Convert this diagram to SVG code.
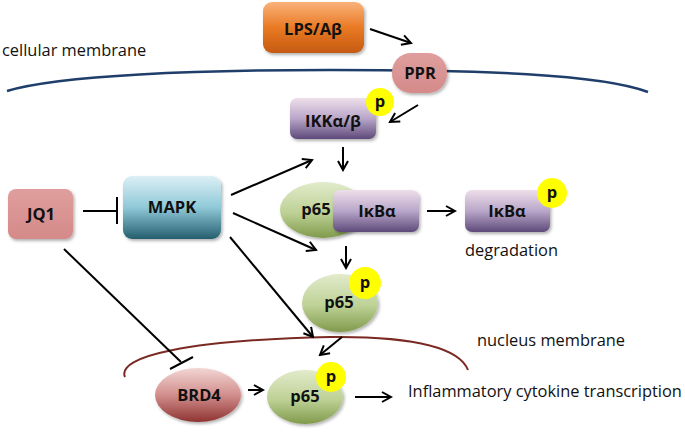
<svg xmlns="http://www.w3.org/2000/svg" width="685" height="432" viewBox="0 0 685 432">
<defs>
<style>
.lbl{font-family:"Open Sans","Liberation Sans",sans-serif;font-weight:bold;font-size:16.5px;fill:#111;text-anchor:middle}
.txt{font-family:"Open Sans","Liberation Sans",sans-serif;font-size:16.4px;fill:#111}
.con{stroke:#000;stroke-width:2;fill:none}
.arr{marker-end:url(#ah)}
.pc{fill:#FFFF00}
</style>
<marker id="ah" viewBox="0 0 12 12" refX="10" refY="6" markerWidth="12" markerHeight="12" markerUnits="userSpaceOnUse" orient="auto">
<path d="M1,1 L10,6 L1,11" fill="none" stroke="#000" stroke-width="2"/>
</marker>
<filter id="sh" x="-20%" y="-20%" width="150%" height="150%">
<feDropShadow dx="1.5" dy="2" stdDeviation="1.8" flood-color="#000" flood-opacity="0.3"/>
</filter>
<linearGradient id="gOr" x1="0" y1="0" x2="0" y2="1">
<stop offset="0" stop-color="#F9B27A"/><stop offset="0.5" stop-color="#E97A24"/><stop offset="1" stop-color="#C55A11"/>
</linearGradient>
<linearGradient id="gPu" x1="0" y1="0" x2="0" y2="1">
<stop offset="0" stop-color="#EEDFEA"/><stop offset="0.5" stop-color="#B9A6C9"/><stop offset="1" stop-color="#5E4A7A"/>
</linearGradient>
<linearGradient id="gBl" x1="0" y1="0" x2="0" y2="1">
<stop offset="0" stop-color="#DCEFF5"/><stop offset="0.5" stop-color="#8FC9D8"/><stop offset="1" stop-color="#245E6E"/>
</linearGradient>
<linearGradient id="gGr" x1="0" y1="0" x2="0" y2="1">
<stop offset="0" stop-color="#E2EBCB"/><stop offset="0.55" stop-color="#BDD195"/><stop offset="1" stop-color="#809A4C"/>
</linearGradient>
<linearGradient id="gRd" x1="0" y1="0" x2="0" y2="1">
<stop offset="0" stop-color="#F2D6D4"/><stop offset="0.5" stop-color="#D28E8C"/><stop offset="1" stop-color="#8E3432"/>
</linearGradient>
<linearGradient id="gPk" x1="0" y1="0" x2="0" y2="1">
<stop offset="0" stop-color="#DF9E9D"/><stop offset="1" stop-color="#D48A89"/>
</linearGradient>
</defs>
<rect width="685" height="432" fill="#fff"/>

<g id="membranes">
<path d="M7,91 C60,75 200,70 330,70 C480,70 600,74 648,92" fill="none" stroke="#1F3E6A" stroke-width="2.5"/>
<path d="M125,377 C116,356 190,340 330,337 C420,336 460,350 468,370" fill="none" stroke="#7A2A22" stroke-width="2"/>
<text class="txt" x="2" y="56">cellular membrane</text>
<text class="txt" x="477" y="346">nucleus membrane</text>
</g>

<g id="connectors">
<line class="con arr" x1="370" y1="29" x2="411" y2="43"/>
<line class="con arr" x1="418" y1="105" x2="390" y2="122"/>
<line class="con arr" x1="343" y1="147" x2="343" y2="170"/>
<line class="con arr" x1="231" y1="195" x2="312" y2="160"/>
<line class="con arr" x1="233" y1="213" x2="316" y2="250"/>
<line class="con arr" x1="230" y1="237" x2="313" y2="337"/>
<line class="con arr" x1="427" y1="211" x2="455" y2="211"/>
<line class="con arr" x1="346" y1="246" x2="346" y2="268"/>
<line class="con arr" x1="342" y1="337" x2="320" y2="355"/>
<line class="con arr" x1="248" y1="390" x2="263" y2="390"/>
<line class="con arr" x1="355" y1="397" x2="391" y2="397"/>
<line class="con" x1="83" y1="211" x2="117" y2="211"/>
<line class="con" x1="117" y1="197" x2="117" y2="224"/>
<line class="con" x1="64" y1="249" x2="181" y2="362"/>
<line class="con" x1="170" y1="369" x2="193" y2="357"/>
</g>

<g id="lps">
<rect x="263" y="2" width="101" height="51" rx="9" fill="url(#gOr)" filter="url(#sh)"/>
<text class="lbl" x="313" y="35">LPS/Aβ</text>
</g>

<g id="ppr">
<rect x="392" y="53" width="55" height="40" rx="19" fill="url(#gPk)" filter="url(#sh)"/>
<text class="lbl" x="420" y="79">PPR</text>
</g>

<g id="ikk">
<rect x="290" y="98" width="86" height="41" rx="7" fill="url(#gPu)" filter="url(#sh)"/>
<text class="lbl" x="333" y="127">IKKα/β</text>
<circle class="pc" cx="380" cy="102" r="14"/>
<text class="lbl" x="380" y="107">p</text>
</g>

<g id="jq1">
<rect x="8" y="189" width="65" height="50" rx="8" fill="url(#gPk)" filter="url(#sh)"/>
<text class="lbl" x="41" y="220">JQ1</text>
</g>

<g id="mapk">
<rect x="123" y="176" width="98" height="63" rx="9" fill="url(#gBl)" filter="url(#sh)"/>
<text class="lbl" x="172" y="213">MAPK</text>
</g>

<g id="p65-ikba">
<ellipse cx="323" cy="210" rx="43" ry="28" fill="url(#gGr)" filter="url(#sh)"/>
<text class="lbl" x="316" y="215">p65</text>
<rect x="333" y="190" width="86" height="42" rx="7" fill="url(#gPu)" filter="url(#sh)"/>
<text class="lbl" x="377" y="217">IκBα</text>
</g>

<g id="ikba-p">
<rect x="465" y="190" width="85" height="42" rx="7" fill="url(#gPu)" filter="url(#sh)"/>
<text class="lbl" x="507" y="217">IκBα</text>
<circle class="pc" cx="552" cy="193" r="15"/>
<text class="lbl" x="552" y="198">p</text>
<text class="txt" x="465" y="256">degradation</text>
</g>

<g id="p65-p">
<ellipse cx="340" cy="303" rx="38" ry="29" fill="url(#gGr)" filter="url(#sh)"/>
<text class="lbl" x="339" y="308">p65</text>
<circle class="pc" cx="365" cy="283" r="16"/>
<text class="lbl" x="365" y="288">p</text>
</g>

<g id="brd4">
<ellipse cx="198" cy="395" rx="43" ry="27" fill="url(#gRd)" filter="url(#sh)"/>
<text class="lbl" x="199" y="401">BRD4</text>
</g>

<g id="p65-nuc">
<ellipse cx="305" cy="397" rx="38" ry="27" fill="url(#gGr)" filter="url(#sh)"/>
<text class="lbl" x="305" y="402">p65</text>
<circle class="pc" cx="331" cy="377" r="15"/>
<text class="lbl" x="331" y="382">p</text>
</g>

<g id="output">
<text class="txt" x="408" y="397">Inflammatory cytokine transcription</text>
</g>
</svg>
